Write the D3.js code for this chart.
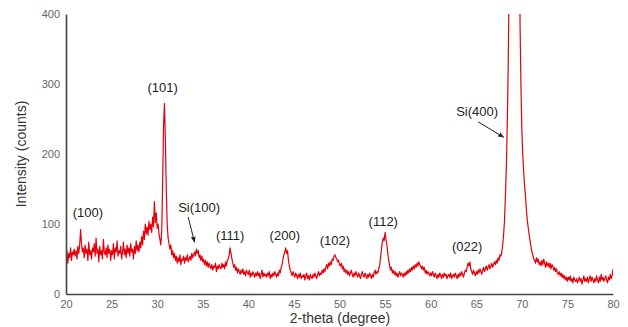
<!DOCTYPE html>
<html>
<head>
<meta charset="utf-8">
<script src="https://cdn.jsdelivr.net/npm/d3@7"></script>
<style>
  body { margin: 0; background: #fff; }
  svg { font-family: 'Liberation Sans', Arial, sans-serif; }
</style>
</head>
<body>
<div id="chart"></div>
<script>
// 2-theta start / step of the scan (degrees)
const thetaStart = 20;
const thetaStep = 0.1;

// intensity (counts), every 0.1 degree, one row per degree (20..79) + 80
const intensity = [
  50, 62, 44, 58, 52, 66, 48, 60, 56, 64,
  54, 62, 50, 68, 58, 70, 92, 72, 60, 66,
  52, 70, 58, 64, 48, 74, 56, 62, 50, 66,
  60, 72, 54, 80, 58, 64, 46, 68, 56, 62,
  50, 78, 60, 56, 66, 52, 70, 58, 64, 48,
  62, 56, 72, 50, 66, 60, 76, 54, 62, 58,
  68, 50, 60, 74, 56, 64, 52, 70, 58, 66,
  54, 72, 60, 64, 50, 68, 58, 76, 62, 70,
  60, 74, 66, 82, 70, 90, 78, 100, 86, 96,
  84, 104, 92, 100, 88, 110, 96, 132, 102, 116,
  94, 100, 86, 78, 70, 90, 160, 240, 272, 220,
  150, 100, 80, 72, 64, 70, 56, 62, 52, 58,
  48, 54, 44, 52, 46, 56, 42, 50, 48, 54,
  44, 52, 48, 56, 46, 50, 54, 48, 58, 52,
  56, 60, 54, 64, 58, 62, 52, 56, 48, 54,
  46, 50, 42, 48, 40, 46, 38, 44, 40, 36,
  42, 34, 40, 38, 44, 32, 40, 36, 42, 38,
  36, 44, 38, 42, 36, 46, 40, 48, 50, 56,
  66, 58, 50, 44, 38, 42, 34, 38, 30, 36,
  32, 28, 34, 30, 36, 28, 32, 26, 34, 30,
  28, 34, 24, 30, 26, 32, 28, 24, 30, 26,
  32, 26, 30, 22, 28, 34, 24, 30, 26, 28,
  24, 30, 26, 32, 22, 28, 24, 30, 26, 32,
  28, 24, 30, 26, 34, 30, 38, 42, 50, 56,
  60, 66, 58, 62, 48, 40, 34, 30, 26, 32,
  28, 24, 30, 26, 22, 28, 24, 30, 22, 26,
  24, 28, 20, 26, 30, 22, 26, 20, 28, 24,
  22, 28, 24, 30, 26, 22, 28, 32, 26, 30,
  28, 34, 30, 36, 32, 38, 42, 36, 44, 40,
  46, 42, 50, 48, 54, 56, 52, 50, 46, 48,
  42, 40, 44, 36, 40, 32, 36, 30, 34, 28,
  32, 26, 30, 34, 28, 24, 30, 26, 32, 28,
  24, 30, 26, 22, 28, 32, 26, 24, 30, 26,
  22, 28, 24, 30, 26, 22, 28, 24, 30, 34,
  28, 32, 30, 36, 40, 52, 64, 74, 80, 76,
  88, 78, 70, 58, 48, 40, 34, 38, 30, 34,
  28, 32, 26, 30, 24, 28, 32, 26, 30, 28,
  24, 30, 26, 32, 28, 34, 30, 36, 32, 38,
  34, 40, 36, 42, 38, 44, 40, 46, 42, 40,
  36, 40, 34, 38, 30, 34, 28, 32, 30, 26,
  30, 26, 32, 28, 24, 30, 26, 22, 28, 24,
  30, 26, 22, 28, 24, 30, 26, 28, 22, 26,
  28, 24, 30, 22, 26, 28, 24, 30, 26, 22,
  28, 24, 30, 26, 32, 28, 24, 30, 34, 32,
  38, 44, 40, 46, 36, 32, 28, 34, 30, 26,
  32, 28, 34, 30, 36, 32, 28, 34, 38, 32,
  36, 40, 34, 38, 42, 36, 40, 44, 38, 42,
  46, 42, 48, 44, 52, 48, 56, 54, 60, 70,
  85, 105, 140, 180, 240, 320, 440, 800, 1500, 1600,
  1600, 1600, 1600, 1600, 1600, 1600, 1500, 1000, 390, 300,
  235, 200, 175, 155, 140, 120, 105, 95, 85, 76,
  68, 60, 56, 50, 48, 44, 52, 46, 50, 42,
  46, 40, 48, 42, 50, 44, 38, 46, 40, 44,
  38, 44, 36, 42, 40, 34, 38, 32, 36, 30,
  28, 32, 26, 30, 24, 28, 22, 26, 20, 24,
  18, 24, 20, 26, 18, 22, 16, 24, 20, 18,
  22, 16, 20, 24, 18, 22, 14, 20, 26, 18,
  22, 18, 24, 16, 22, 26, 18, 24, 20, 16,
  22, 18, 26, 20, 16, 24, 18, 28, 20, 24,
  18, 22, 26, 20, 16, 24, 20, 28, 22, 26,
  36
];

const xTicks = [20, 25, 30, 35, 40, 45, 50, 55, 60, 65, 70, 75, 80];
const yTicks = [0, 100, 200, 300, 400];

// peak labels: text, 2-theta, intensity
const peakLabels = ['(100)', '(101)', 'Si(100)', '(111)', '(200)', '(102)', '(112)', '(022)', 'Si(400)'];
const peakLabelTheta = [22.4, 30.6, 34.6, 38.0, 44.0, 49.5, 54.8, 64.0, 65.1];
const peakLabelCounts = [110, 289, 117, 77, 77, 70, 97, 61, 255];

// arrows: from label to peak [theta0, counts0, theta1, counts1]
const arrows = [
  [33.4, 110, 34.1, 74],
  [65.2, 246, 68.0, 224]
];

const width = 628;
const height = 327;
const margin = { top: 14, right: 15, bottom: 33, left: 66 };

const data = intensity.map((v, i) => ({ theta: thetaStart + i * thetaStep, value: v }));

const svg = d3.select('#chart')
  .append('svg')
  .attr('width', width)
  .attr('height', height);

const x = d3.scaleLinear()
  .domain([20, 80])
  .range([margin.left, width - margin.right]);

const y = d3.scaleLinear()
  .domain([0, 400])
  .range([height - margin.bottom, margin.top]);

svg.append('clipPath')
  .attr('id', 'plot-clip')
  .append('rect')
  .attr('x', margin.left)
  .attr('y', margin.top)
  .attr('width', width - margin.left - margin.right)
  .attr('height', height - margin.top - margin.bottom);

const line = d3.line()
  .x((d) => x(d.theta))
  .y((d) => y(d.value));

svg.append('path')
  .datum(data)
  .attr('clip-path', 'url(#plot-clip)')
  .attr('fill', 'none')
  .attr('stroke', '#e3000b')
  .attr('stroke-width', 1.2)
  .attr('stroke-linejoin', 'round')
  .attr('d', line);

// axes
const xAxis = svg.append('g')
  .attr('transform', `translate(0,${y(0)})`)
  .call(d3.axisBottom(x).tickValues(xTicks).tickSize(0).tickPadding(6).tickSizeOuter(0));

const yAxis = svg.append('g')
  .attr('transform', `translate(${margin.left},0)`)
  .call(d3.axisLeft(y).tickValues(yTicks).tickSize(0).tickPadding(6).tickSizeOuter(0));

[xAxis, yAxis].forEach((g) => {
  g.select('.domain').attr('stroke', '#444').attr('stroke-width', 1.6);
  g.selectAll('text').attr('fill', '#666').style('font-size', '11px');
});

svg.append('text')
  .attr('transform', `translate(26,${(y(0) + y(400)) / 2}) rotate(-90)`)
  .attr('text-anchor', 'middle')
  .attr('fill', '#333')
  .style('font-size', '14px')
  .text('Intensity (counts)');

svg.append('text')
  .attr('x', 340)
  .attr('y', 323)
  .attr('text-anchor', 'middle')
  .attr('fill', '#333')
  .style('font-size', '14px')
  .text('2-theta (degree)');

// peak annotations
peakLabels.forEach((label, i) => {
  svg.append('text')
    .attr('x', x(peakLabelTheta[i]))
    .attr('y', y(peakLabelCounts[i]))
    .attr('text-anchor', 'middle')
    .attr('fill', '#222')
    .style('font-size', '13px')
    .text(label);
});

svg.append('defs')
  .append('marker')
  .attr('id', 'arrowhead')
  .attr('viewBox', '0 0 10 10')
  .attr('refX', 9)
  .attr('refY', 5)
  .attr('markerWidth', 6)
  .attr('markerHeight', 6)
  .attr('orient', 'auto')
  .append('path')
  .attr('d', 'M0,1 L10,5 L0,9 Z')
  .attr('fill', '#222');

arrows.forEach((a) => {
  svg.append('line')
    .attr('x1', x(a[0]))
    .attr('y1', y(a[1]))
    .attr('x2', x(a[2]))
    .attr('y2', y(a[3]))
    .attr('stroke', '#222')
    .attr('stroke-width', 1)
    .attr('marker-end', 'url(#arrowhead)');
});
</script>
</body>
</html>
